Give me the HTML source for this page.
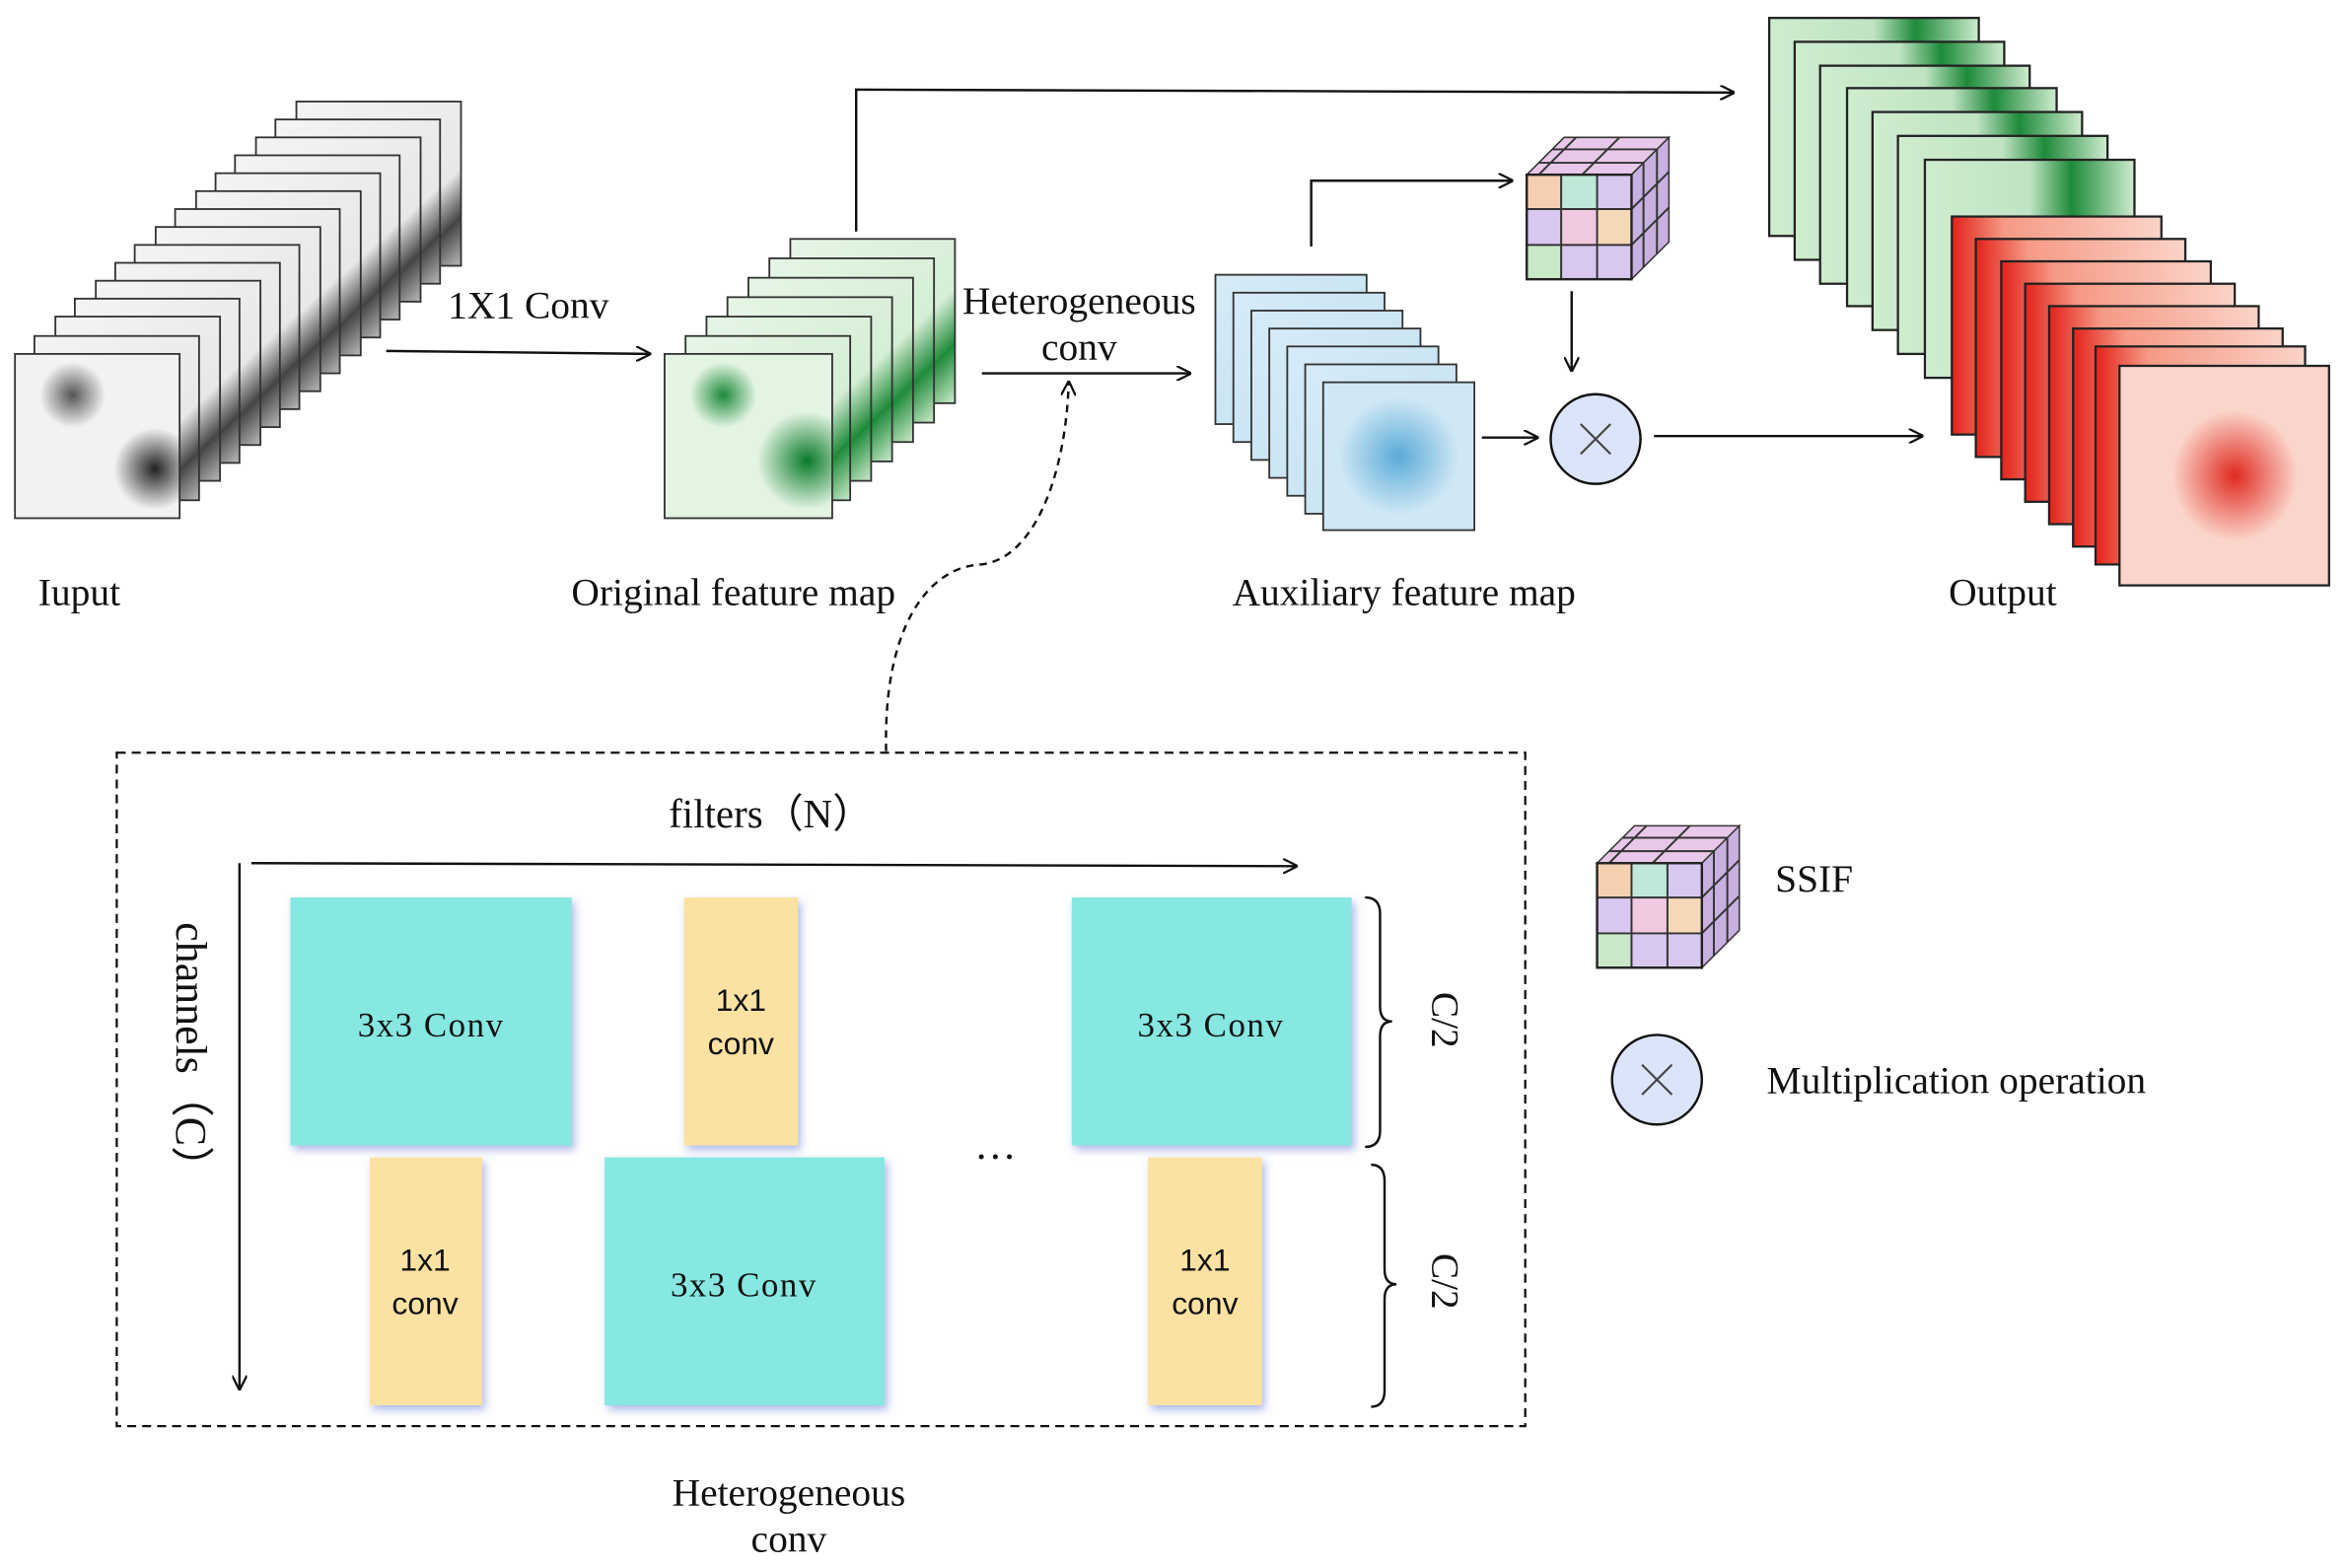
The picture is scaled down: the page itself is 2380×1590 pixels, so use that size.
<!DOCTYPE html>
<html><head><meta charset="utf-8"><style>
html,body{margin:0;padding:0;background:#fff;}
svg{display:block;}
text{font-family:"Liberation Serif",serif;fill:#111;}
.sans{font-family:"Liberation Sans",sans-serif;}
</style></head><body>
<svg width="2380" height="1590" viewBox="0 0 1568 1050" preserveAspectRatio="none" xmlns="http://www.w3.org/2000/svg">
<defs>
<marker id="ah" markerWidth="10" markerHeight="10" refX="9" refY="5" orient="auto" markerUnits="userSpaceOnUse"><path d="M0,0 L10,5 L0,10" fill="none" stroke="#111" stroke-width="1.5"/></marker>
<linearGradient id="gIn" x1="0" y1="0" x2="1" y2="1"><stop offset="0" stop-color="#f4f4f4"/><stop offset="0.7" stop-color="#e8e8e8"/><stop offset="0.85" stop-color="#444"/><stop offset="1" stop-color="#bbb"/></linearGradient>
<radialGradient id="rInA" cx="0.35" cy="0.25" r="0.2"><stop offset="0" stop-color="#555"/><stop offset="1" stop-color="#555" stop-opacity="0"/></radialGradient>
<radialGradient id="rInB" cx="0.85" cy="0.7" r="0.25"><stop offset="0" stop-color="#222"/><stop offset="1" stop-color="#222" stop-opacity="0"/></radialGradient>
<linearGradient id="gGr" x1="0" y1="0" x2="1" y2="1"><stop offset="0" stop-color="#e6f5e6"/><stop offset="0.65" stop-color="#d6eed6"/><stop offset="0.82" stop-color="#1f8a3a"/><stop offset="1" stop-color="#cdeccd"/></linearGradient>
<radialGradient id="rGrA" cx="0.35" cy="0.25" r="0.2"><stop offset="0" stop-color="#1d8a3a"/><stop offset="1" stop-color="#1d8a3a" stop-opacity="0"/></radialGradient>
<radialGradient id="rGrB" cx="0.85" cy="0.65" r="0.3"><stop offset="0" stop-color="#0a7a2a"/><stop offset="1" stop-color="#0a7a2a" stop-opacity="0"/></radialGradient>
<linearGradient id="gOG" x1="0" y1="0" x2="1" y2="0"><stop offset="0" stop-color="#cfeccf"/><stop offset="0.5" stop-color="#bfe3c3"/><stop offset="0.7" stop-color="#1e8a3a"/><stop offset="1" stop-color="#cfeccf"/></linearGradient>
<linearGradient id="gBl" x1="0" y1="0" x2="1" y2="1"><stop offset="0" stop-color="#d6ebf6"/><stop offset="1" stop-color="#c2e0f2"/></linearGradient>
<radialGradient id="rBl" cx="0.5" cy="0.5" r="0.4"><stop offset="0" stop-color="#5aaad8"/><stop offset="1" stop-color="#5aaad8" stop-opacity="0"/></radialGradient>
<linearGradient id="gRd" x1="0" y1="0" x2="1" y2="0"><stop offset="0" stop-color="#e3221a"/><stop offset="0.25" stop-color="#f59a85"/><stop offset="1" stop-color="#fbd3c8"/></linearGradient>
<radialGradient id="rRd" cx="0.55" cy="0.5" r="0.3"><stop offset="0" stop-color="#e02a20"/><stop offset="1" stop-color="#e02a20" stop-opacity="0"/></radialGradient>
<filter id="sh" x="-10%" y="-10%" width="130%" height="130%"><feDropShadow dx="2" dy="3" stdDeviation="3" flood-color="#5a6fd0" flood-opacity="0.5"/></filter>
<g id="inL"><rect width="110" height="110" fill="url(#gIn)" stroke="#333" stroke-width="1.2"/></g>
<g id="grL"><rect width="110" height="110" fill="url(#gGr)" stroke="#333" stroke-width="1.2"/></g>
<g id="blL"><rect width="101" height="100" fill="url(#gBl)" stroke="#333" stroke-width="1.2"/></g>
<g id="ogL"><rect width="140" height="146" fill="url(#gOG)" stroke="#222" stroke-width="1.5"/></g>
<g id="rdL"><rect width="140" height="146" fill="url(#gRd)" stroke="#222" stroke-width="1.5"/></g>
<g id="cube">
 <polygon points="0,25 25,0 95,0 70,25" fill="#e8c8e8" stroke="#333"/>
 <polygon points="70,25 95,0 95,70 70,95" fill="#c8b0e0" stroke="#333"/>
 <rect x="0" y="25" width="70" height="70" fill="#d8c8f0" stroke="#333"/>
 <rect x="0" y="25" width="23" height="23" fill="#f5d0b0"/><rect x="23" y="25" width="24" height="23" fill="#c0e8d8"/><rect x="47" y="48" width="23" height="24" fill="#f5d8b8"/><rect x="0" y="72" width="23" height="23" fill="#c8e8c8"/><rect x="23" y="48" width="24" height="24" fill="#f0c8e0"/>
 <path d="M23,25V95M47,25V95M0,48H70M0,72H70M8,17H78M17,8H87M33,0L8,25M62,0L37,25M70,25 M78,17V87M87,8V78M70,48L95,23M70,72L95,47" fill="none" stroke="#333" stroke-width="1.3"/>
 <rect x="0" y="25" width="70" height="70" fill="none" stroke="#222" stroke-width="1.6"/>
</g>
</defs>

<g>
<use href="#inL" x="198" y="68"/><use href="#inL" x="184" y="80"/><use href="#inL" x="171" y="92"/><use href="#inL" x="157" y="104"/><use href="#inL" x="144" y="116"/><use href="#inL" x="131" y="128"/><use href="#inL" x="117" y="140"/><use href="#inL" x="104" y="152"/><use href="#inL" x="90" y="164"/><use href="#inL" x="77" y="176"/><use href="#inL" x="64" y="188"/><use href="#inL" x="50" y="200"/><use href="#inL" x="37" y="212"/><use href="#inL" x="23" y="225"/>
<rect x="10" y="237" width="110" height="110" fill="#f2f2f2" stroke="#333" stroke-width="1.2"/>
<rect x="10" y="237" width="110" height="110" fill="url(#rInA)"/>
<rect x="10" y="237" width="110" height="110" fill="url(#rInB)"/>
</g>
<g>
<use href="#grL" x="528" y="160"/><use href="#grL" x="514" y="173"/><use href="#grL" x="500" y="186"/><use href="#grL" x="486" y="199"/><use href="#grL" x="472" y="212"/><use href="#grL" x="458" y="225"/>
<rect x="444" y="237" width="112" height="110" fill="#e3f4e3" stroke="#333" stroke-width="1.2"/>
<rect x="444" y="237" width="112" height="110" fill="url(#rGrA)"/>
<rect x="444" y="237" width="112" height="110" fill="url(#rGrB)"/>
</g>
<g>
<use href="#blL" x="812" y="184"/><use href="#blL" x="824" y="196"/><use href="#blL" x="836" y="208"/><use href="#blL" x="848" y="220"/><use href="#blL" x="860" y="232"/><use href="#blL" x="872" y="244"/>
<rect x="884" y="256" width="101" height="99" fill="#d0e8f5" stroke="#333" stroke-width="1.2"/>
<rect x="884" y="256" width="101" height="99" fill="url(#rBl)"/>
</g>
<g>
<use href="#ogL" x="1182" y="12"/><use href="#ogL" x="1199" y="28"/><use href="#ogL" x="1216" y="44"/><use href="#ogL" x="1234" y="59"/><use href="#ogL" x="1251" y="75"/><use href="#ogL" x="1268" y="91"/><use href="#ogL" x="1286" y="107"/>
<use href="#rdL" x="1304" y="145"/><use href="#rdL" x="1320" y="160"/><use href="#rdL" x="1337" y="175"/><use href="#rdL" x="1353" y="190"/><use href="#rdL" x="1369" y="205"/><use href="#rdL" x="1385" y="220"/><use href="#rdL" x="1400" y="232"/>
<rect x="1416" y="245" width="140" height="147" fill="#fbd5cb" stroke="#222" stroke-width="1.5"/>
<rect x="1416" y="245" width="140" height="147" fill="url(#rRd)"/>
</g>
<use href="#cube" x="1020" y="92"/>
<use href="#cube" x="1067" y="553"/>

<g fill="none" stroke="#111" stroke-width="1.6">
<line x1="258" y1="235" x2="434" y2="237" marker-end="url(#ah)"/>
<polyline points="572,155 572,60 1158,62" marker-end="url(#ah)"/>
<line x1="656" y1="250" x2="795" y2="250" marker-end="url(#ah)"/>
<polyline points="876,165 876,121 1010,121" marker-end="url(#ah)"/>
<line x1="1050" y1="195" x2="1050" y2="248" marker-end="url(#ah)"/>
<line x1="990" y1="293" x2="1027" y2="293" marker-end="url(#ah)"/>
<line x1="1105" y1="292" x2="1284" y2="292" marker-end="url(#ah)"/>
<path d="M592,503 C590,420 620,380 655,378 C690,375 712,320 714,256" stroke-dasharray="5,4" marker-end="url(#ah)"/>
<rect x="78" y="504" width="941" height="451" stroke-dasharray="6,4" stroke-width="1.5"/>
<line x1="168" y1="578" x2="866" y2="580" marker-end="url(#ah)"/>
<line x1="160" y1="578" x2="160" y2="930" marker-end="url(#ah)"/>
<path d="M912,601 Q922,601 922,612 V674 Q922,684 930,684 Q922,684 922,694 V757 Q922,768 912,768"/>
<path d="M916,780 Q925,780 925,791 V850 Q925,860 933,860 Q925,860 925,870 V931 Q925,942 916,942"/>
</g>
<circle cx="1066" cy="294" r="30" fill="#dce4fa" stroke="#111" stroke-width="1.6"/>
<path d="M1056,284 L1076,304 M1076,284 L1056,304" stroke="#444" stroke-width="1.4"/>
<circle cx="1107" cy="723" r="30" fill="#dce4fa" stroke="#111" stroke-width="1.6"/>
<path d="M1097,713 L1117,733 M1117,713 L1097,733" stroke="#444" stroke-width="1.4"/>

<g filter="url(#sh)">
<rect x="194" y="601" width="188" height="166" fill="#86e8e0"/>
<rect x="716" y="601" width="187" height="166" fill="#86e8e0"/>
<rect x="404" y="775" width="187" height="166" fill="#86e8e0"/>
<rect x="457" y="601" width="76" height="166" fill="#fbe2a2"/>
<rect x="247" y="775" width="75" height="166" fill="#fbe2a2"/>
<rect x="767" y="775" width="76" height="166" fill="#fbe2a2"/>
</g>
<g font-size="23" text-anchor="middle" letter-spacing="1">
<text x="288" y="694">3x3 Conv</text>
<text x="809" y="694">3x3 Conv</text>
<text x="497" y="868">3x3 Conv</text>
</g>
<g font-size="21" text-anchor="middle">
<text class="sans" x="495" y="677" text-anchor="middle">1x1</text><text class="sans" x="495" y="706" text-anchor="middle">conv</text>
<text class="sans" x="284" y="851" text-anchor="middle">1x1</text><text class="sans" x="284" y="880" text-anchor="middle">conv</text>
<text class="sans" x="805" y="851" text-anchor="middle">1x1</text><text class="sans" x="805" y="880" text-anchor="middle">conv</text>
</g>
<text x="665" y="776" font-size="28" text-anchor="middle">…</text>

<g font-size="26" text-anchor="middle">
<text x="353" y="213">1X1 Conv</text>
<text x="721" y="210">Heterogeneous</text>
<text x="721" y="241">conv</text>
<text x="53" y="405">Iuput</text>
<text x="490" y="405">Original feature map</text>
<text x="938" y="405">Auxiliary feature map</text>
<text x="1338" y="405">Output</text>
<text x="515" y="554" font-size="27">filters（N）</text>
<text x="527" y="1008">Heterogeneous</text>
<text x="527" y="1039">conv</text>
<text x="1212" y="597">SSIF</text>
<text x="1307" y="732">Multiplication operation</text>
</g>
<text font-size="29" transform="translate(118,707) rotate(90)" text-anchor="middle">channels（C）</text>
<text font-size="26" transform="translate(957,683) rotate(90)" text-anchor="middle">C/2</text>
<text font-size="26" transform="translate(957,858) rotate(90)" text-anchor="middle">C/2</text>
</svg>
</body></html>
